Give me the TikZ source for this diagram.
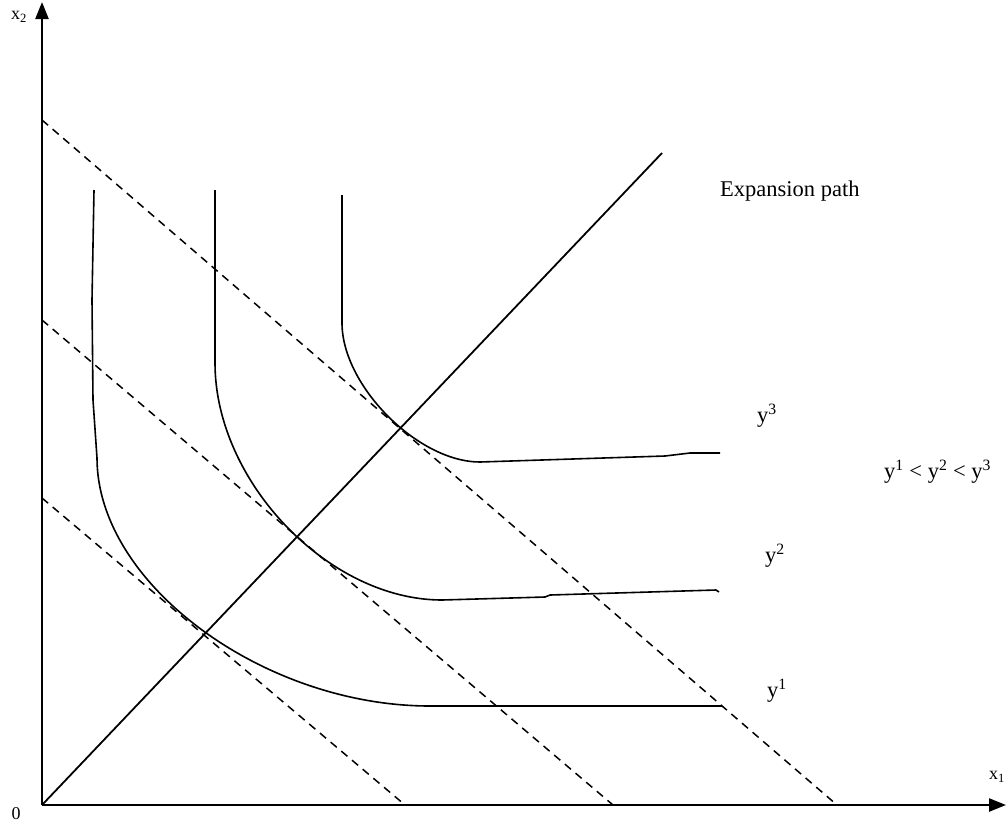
\documentclass[tikz,border=0pt]{standalone}
\usepackage{fontspec}
\setmainfont{Liberation Serif}
\usetikzlibrary{arrows.meta}
\begin{document}
\begin{tikzpicture}[x=1pt,y=-1pt,
 axis/.style={line width=2.4pt,-{Triangle[length=17pt,width=13pt]}},
 curve/.style={line width=1.6pt,line join=round},
 budget/.style={line width=1.5pt,dash pattern=on 8pt off 6pt},
 lbl/.style={font=\fontsize{22.5}{26}\selectfont,inner sep=0pt},
 axlbl/.style={font=\fontsize{18}{22}\selectfont,inner sep=0pt}]
\useasboundingbox (0,0) rectangle (1008,825);
% axes
\coordinate (O) at (42,805);
\coordinate (ytop) at (42,2);
\coordinate (xend) at (1006,805);
\draw[axis] (O) -- (ytop);
\draw[axis] (O) -- (xend);
\node[axlbl] (lx2) at (19,17) {x\textsubscript{2}};
\node[axlbl] (lx1) at (997,777) {x\textsubscript{1}};
\node[axlbl] (lzero) at (16,814) {0};
% expansion path
\coordinate (ep) at (662,153);
\draw[line width=1.8pt] (O) -- (ep);
\node[lbl,anchor=base west] (lep) at (720,196) {Expansion path};
% isocost lines
\coordinate (b1s) at (42,120);  \coordinate (b1e) at (837,805);
\coordinate (b2s) at (42,320);  \coordinate (b2e) at (613,805);
\coordinate (b3s) at (42,498);  \coordinate (b3e) at (405,805);
\draw[budget] (b1s) -- (b1e);
\draw[budget] (b2s) -- (b2e);
\draw[budget] (b3s) -- (b3e);
% isoquants
\draw[curve] (94,190) -- (92,300) -- (93,400) -- (97,458)
  .. controls (97,584) and (263.5,706) .. (430,706)
  -- (722,706);
\draw[curve] (215,190) -- (215,363)
  .. controls (215,481.5) and (328.5,600) .. (442,600)
  -- (545,597) -- (550,595) -- (716,590) -- (719,592);
\draw[curve] (342,195) -- (342,323)
  .. controls (342,385.6) and (417.9,462) .. (480,462)
  -- (665,456) -- (690,453) -- (720,453);
% labels
\node[lbl,anchor=base west] (ly3) at (757,422) {y\textsuperscript{3}};
\node[lbl,anchor=base west] (ly2) at (765,562) {y\textsuperscript{2}};
\node[lbl,anchor=base west] (ly1) at (767,697) {y\textsuperscript{1}};
\node[lbl,anchor=base west] (lineq) at (884,478) {y\textsuperscript{1} {<} y\textsuperscript{2} {<} y\textsuperscript{3}};
\end{tikzpicture}
\end{document}
